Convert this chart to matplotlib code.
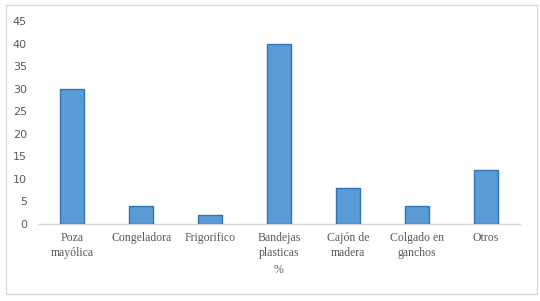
import matplotlib.pyplot as plt
from matplotlib.patches import Rectangle

categorias = ["Poza\nmayólica", "Congeladora", "Frigorifico", "Bandejas\nplasticas",
              "Cajón de\nmadera", "Colgado en\nganchos", "Otros"]
valores = [30, 4, 2, 40, 8, 4, 12]
yticks = [0, 5, 10, 15, 20, 25, 30, 35, 40, 45]

fig = plt.figure(figsize=(5.4, 3.01), dpi=100)
ax = fig.add_axes([38 / 540, 1 - 224 / 301, 482 / 540, 203 / 301])

x = range(len(categorias))
ax.bar(x, valores, width=0.35, color="#5B9BD5", edgecolor="#2E75B6", linewidth=1.0, zorder=3)

ax.set_xlim(-0.5, len(categorias) - 0.5)
ax.set_ylim(0, 45)
ax.set_yticks(yticks)
ax.set_yticklabels([str(v) for v in yticks], fontsize=8, color="#595959", family="DejaVu Sans")
ax.set_xticks(list(x))
ax.set_xticklabels(categorias, fontsize=8.5, color="#595959", family="Liberation Serif",
                   linespacing=1.3)
ax.tick_params(axis="both", length=0, pad=6)
ax.tick_params(axis="y", pad=8)

for s in ["top", "right", "left"]:
    ax.spines[s].set_visible(False)
ax.spines["bottom"].set_color("#D9D9D9")
ax.spines["bottom"].set_linewidth(1.0)

fig.text(279 / 540, 1 - 270 / 301, "%", ha="center", va="center", fontsize=8.5,
         color="#595959", family="Liberation Serif")

fig.patches.append(Rectangle((6 / 540, 1 - 294 / 301), 531 / 540, 289 / 301,
                             transform=fig.transFigure, fill=False,
                             edgecolor="#D9D9D9", linewidth=1.0))

fig.savefig("out.png", dpi=100)
plt.close(fig)
